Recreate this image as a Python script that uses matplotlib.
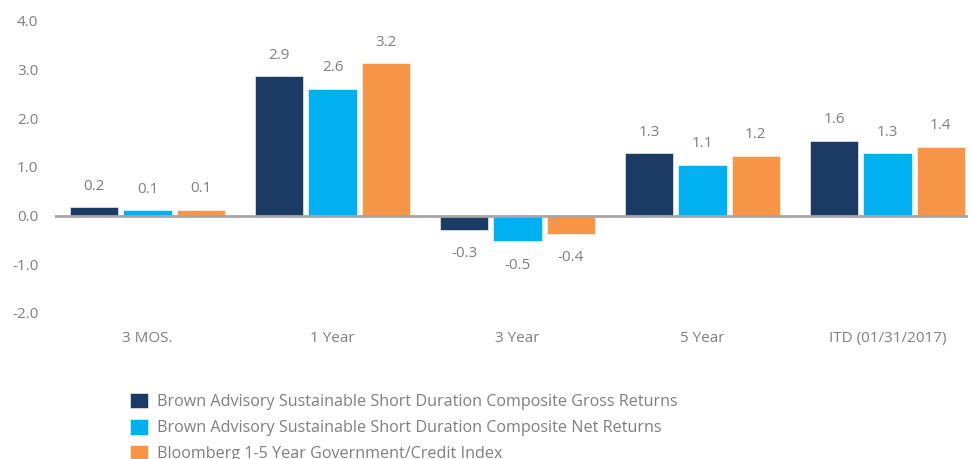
import matplotlib
matplotlib.use("Agg")
import matplotlib.pyplot as plt
import numpy as np

categories = ["3 MOS.", "1 Year", "3 Year", "5 Year", "ITD (01/31/2017)"]
series_names = [
    "Brown Advisory Sustainable Short Duration Composite Gross Returns",
    "Brown Advisory Sustainable Short Duration Composite Net Returns",
    "Bloomberg 1-5 Year Government/Credit Index",
]
gross = [0.18, 2.87, -0.29, 1.29, 1.54]
net = [0.11, 2.61, -0.53, 1.05, 1.29]
index = [0.12, 3.14, -0.37, 1.23, 1.42]
labels_gross = ["0.2", "2.9", "-0.3", "1.3", "1.6"]
labels_net = ["0.1", "2.6", "-0.5", "1.1", "1.3"]
labels_index = ["0.1", "3.2", "-0.4", "1.2", "1.4"]
yticks = [-2.0, -1.0, 0.0, 1.0, 2.0, 3.0, 4.0]

colors = ["#1B3A64", "#00B0F0", "#F79646"]
gray = "#7F7F7F"

plt.rcParams['font.family'] = ['Open Sans', 'DejaVu Sans']

fig = plt.figure(figsize=(9.72, 4.59), dpi=100)
ax = fig.add_axes([55/972, 1-313/459, 913/972, 292/459])

x = np.arange(len(categories))
offset = 0.287
width = 0.26
allvals = [gross, net, index]
alllabels = [labels_gross, labels_net, labels_index]
for i, (vals, labs) in enumerate(zip(allvals, alllabels)):
    pos = x + (i - 1) * offset
    ax.bar(pos, vals, width, color=colors[i], label=series_names[i],
           edgecolor="white", linewidth=0.4, zorder=2)
    for px, v, lab in zip(pos, vals, labs):
        dy = 15 if v >= 0 else -17
        ax.annotate(lab, (px, v), xytext=(0, dy), textcoords="offset points",
                    ha="center", va="center", fontsize=11, color=gray)

ax.axhline(0, color="#A6A6A6", linewidth=2, zorder=3)
ax.set_ylim(-2.0, 4.0)
ax.set_xlim(-0.5, 4.435)
ax.set_yticks(yticks)
ax.set_yticklabels([f"{t:.1f}" for t in yticks])
ax.set_xticks(x)
ax.set_xticklabels(categories)
ax.tick_params(axis="both", length=0, labelsize=11, labelcolor=gray)
ax.tick_params(axis="y", pad=12)
ax.tick_params(axis="x", pad=13)
for s in ax.spines.values():
    s.set_visible(False)

leg = fig.legend(loc="upper left", bbox_to_anchor=(130/972, 1-393/459),
                 frameon=False, fontsize=11.6, handlelength=1.1, handleheight=1.1,
                 handletextpad=0.55, labelspacing=0.55, borderaxespad=0, borderpad=0)
for t in leg.get_texts():
    t.set_color(gray)

fig.savefig("out.png", dpi=100)
